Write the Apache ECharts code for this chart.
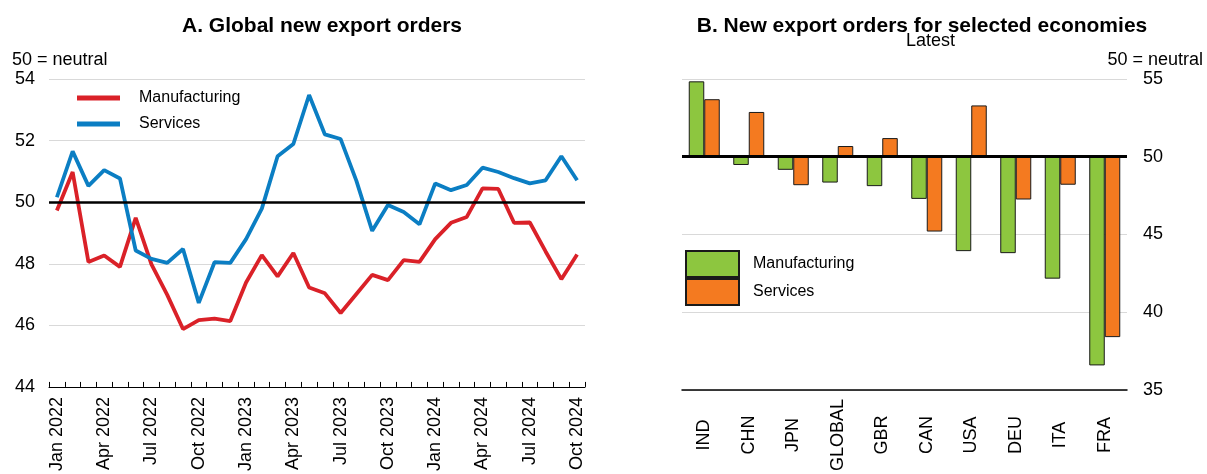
<!DOCTYPE html>
<html><head><meta charset="utf-8">
<script src="https://cdn.jsdelivr.net/npm/echarts@6/dist/echarts.min.js"></script>
<style>html,body{margin:0;padding:0;background:#fff}#c{width:1207px;height:474px}</style>
</head><body><div id="c"></div>
<script>
const months = ['Jan 2022','Feb 2022','Mar 2022','Apr 2022','May 2022','Jun 2022','Jul 2022','Aug 2022','Sep 2022','Oct 2022','Nov 2022','Dec 2022',
'Jan 2023','Feb 2023','Mar 2023','Apr 2023','May 2023','Jun 2023','Jul 2023','Aug 2023','Sep 2023','Oct 2023','Nov 2023','Dec 2023',
'Jan 2024','Feb 2024','Mar 2024','Apr 2024','May 2024','Jun 2024','Jul 2024','Aug 2024','Sep 2024','Oct 2024'];
const manufacturing = [49.73,50.98,48.06,48.27,47.90,49.49,47.98,46.99,45.88,46.17,46.22,46.14,
47.39,48.28,47.59,48.35,47.23,47.04,46.40,47.02,47.64,47.47,48.12,48.06,
48.80,49.33,49.52,50.45,50.43,49.33,49.34,48.40,47.50,48.30];
const services = [50.16,51.65,50.53,51.04,50.77,48.43,48.16,48.03,48.48,46.73,48.05,48.03,
48.80,49.79,51.49,51.89,53.48,52.20,52.05,50.69,49.07,49.91,49.68,49.28,
50.61,50.39,50.56,51.12,50.98,50.78,50.61,50.71,51.49,50.71];
const countries = ['IND','CHN','JPN','GLOBAL','GBR','CAN','USA','DEU','ITA','FRA'];
const mfgLatest = [54.85,49.47,49.16,48.34,48.11,47.29,43.93,43.80,42.16,36.58];
const svcLatest = [53.70,52.88,48.17,50.69,51.20,45.19,53.30,47.25,48.20,38.40];
const neutral = 50;

const baseOf = a => a.map(v => Math.min(v, neutral));
const spanOf = a => a.map(v => Math.abs(v - neutral));

const FONT = '"Liberation Sans", Arial, sans-serif';
const RED = '#da2128', BLUE = '#0b7ec3', GREEN = '#8dc63f', ORANGE = '#f47a20';
const chart = echarts.init(document.getElementById('c'));
chart.setOption({
  animation: false,
  textStyle: {fontFamily: FONT, color: '#000'},
  title: [
    {text: 'A. Global new export orders', left: 317, top: 11, textAlign: 'center',
     textStyle: {fontFamily: FONT, fontSize: 21, fontWeight: 'bold', color: '#000'}},
    {text: 'B. New export orders for selected economies', left: 917, top: 11, textAlign: 'center',
     textStyle: {fontFamily: FONT, fontSize: 21, fontWeight: 'bold', color: '#000'}}
  ],
  graphic: [
    {type: 'text', left: 12, top: 51, style: {text: '50 = neutral', font: '18px ' + FONT, fill: '#000'}},
    {type: 'text', right: 4, top: 51, style: {text: '50 = neutral', font: '18px ' + FONT, fill: '#000'}},
    {type: 'text', left: 906, top: 32, style: {text: 'Latest', font: '18px ' + FONT, fill: '#000', textAlign: 'center'}}
  ],
  legend: [
    {orient: 'vertical', left: 77, top: 90, padding: 0, icon: 'rect', itemWidth: 43, itemHeight: 5, itemGap: 10,
     data: ['Manufacturing', 'Services'],
     textStyle: {fontFamily: FONT, fontSize: 16, color: '#000', padding: [0,0,0,14], lineHeight: 16}},
    {orient: 'vertical', left: 685, top: 250, padding: 0, icon: 'rect', itemWidth: 53, itemHeight: 26, itemGap: 0,
     data: ['Manufacturing ', 'Services '],
     textStyle: {fontFamily: FONT, fontSize: 16, color: '#000', padding: [0,0,0,9]}}
  ],
  grid: [
    {left: 49, top: 79, width: 536, height: 316},
    {left: 682, top: 79, width: 445, height: 316}
  ],
  xAxis: [
    {type: 'category', gridIndex: 0, data: months, boundaryGap: true,
     axisLine: {lineStyle: {color: '#000', width: 1}},
     axisTick: {show: true, inside: true, length: 5, interval: 0, lineStyle: {color: '#000'}},
     axisLabel: {interval: 2, rotate: 90, margin: 10, fontSize: 18, color: '#000', fontFamily: FONT}},
    {type: 'category', gridIndex: 1, data: countries,
     axisLine: {lineStyle: {color: '#000', width: 1.5}},
     axisTick: {show: false},
     axisLabel: {interval: 0, rotate: 90, margin: 45, align: 'center', verticalAlign: 'middle', fontSize: 18, color: '#000', fontFamily: FONT}}
  ],
  yAxis: [
    {type: 'value', gridIndex: 0, min: 44, max: 54, interval: 2,
     axisLine: {show: false}, axisTick: {show: false},
     axisLabel: {margin: 14, fontSize: 18, color: '#000', fontFamily: FONT},
     splitLine: {lineStyle: {color: '#d9d9d9', width: 1}}},
    {type: 'value', gridIndex: 1, position: 'right', min: 35, max: 55, interval: 5,
     axisLine: {show: false}, axisTick: {show: false},
     axisLabel: {margin: 16, fontSize: 18, color: '#000', fontFamily: FONT},
     splitLine: {lineStyle: {color: '#d9d9d9', width: 1}}}
  ],
  series: [
    {name: 'Manufacturing', type: 'line', xAxisIndex: 0, yAxisIndex: 0, data: manufacturing,
     showSymbol: false, symbol: 'none', color: RED, lineStyle: {color: RED, width: 3.8},
     markLine: {silent: true, symbol: 'none', label: {show: false},
       lineStyle: {color: '#000', width: 2.5, type: 'solid'}, data: [{yAxis: neutral}]}},
    {name: 'Services', type: 'line', xAxisIndex: 0, yAxisIndex: 0, data: services,
     showSymbol: false, symbol: 'none', color: BLUE, lineStyle: {color: BLUE, width: 3.8}},
    {name: 'mBase', type: 'bar', xAxisIndex: 1, yAxisIndex: 1, stack: 'm', data: baseOf(mfgLatest),
     barWidth: 15.5, barGap: '0%', itemStyle: {color: 'rgba(0,0,0,0)'}, silent: true},
    {name: 'Manufacturing ', type: 'bar', xAxisIndex: 1, yAxisIndex: 1, stack: 'm', data: spanOf(mfgLatest),
     barWidth: 15.5, barGap: '0%', itemStyle: {color: GREEN, borderColor: '#1a1a1a', borderWidth: 1}},
    {name: 'sBase', type: 'bar', xAxisIndex: 1, yAxisIndex: 1, stack: 's', data: baseOf(svcLatest),
     barWidth: 15.5, barGap: '0%', itemStyle: {color: 'rgba(0,0,0,0)'}, silent: true},
    {name: 'Services ', type: 'bar', xAxisIndex: 1, yAxisIndex: 1, stack: 's', data: spanOf(svcLatest),
     barWidth: 15.5, barGap: '0%', itemStyle: {color: ORANGE, borderColor: '#1a1a1a', borderWidth: 1},
     markLine: {silent: true, symbol: 'none', label: {show: false}, z: 10,
       lineStyle: {color: '#000', width: 3, type: 'solid'}, data: [{yAxis: neutral}]}}
  ]
});
</script></body></html>
